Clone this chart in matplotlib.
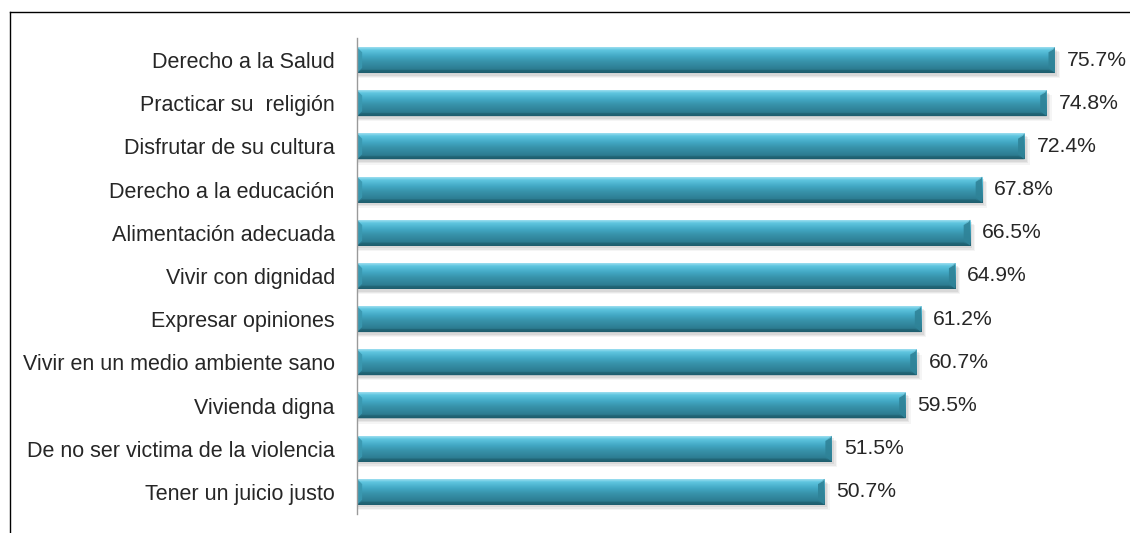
#!/usr/bin/env python3
"""
Horizontal bar chart: derechos (percent), beveled teal bars.
"""
import matplotlib
matplotlib.use("Agg")
import matplotlib.pyplot as plt
import numpy as np
from matplotlib.colors import LinearSegmentedColormap
from matplotlib.patches import Polygon, Rectangle
from matplotlib.lines import Line2D

plt.rcParams['font.family'] = ['Liberation Sans', 'DejaVu Sans']

categories = [
    "Derecho a la Salud",
    "Practicar su  religión",
    "Disfrutar de su cultura",
    "Derecho a la educación",
    "Alimentación adecuada",
    "Vivir con dignidad",
    "Expresar opiniones",
    "Vivir en un medio ambiente sano",
    "Vivienda digna",
    "De no ser victima de la violencia",
    "Tener un juicio justo",
]
values = [75.7, 74.8, 72.4, 67.8, 66.5, 64.9, 61.2, 60.7, 59.5, 51.5, 50.7]
value_labels = ["75.7%", "74.8%", "72.4%", "67.8%", "66.5%", "64.9%",
                "61.2%", "60.7%", "59.5%", "51.5%", "50.7%"]

W, H = 1130, 533
bar_h = 0.6
text_col = "#262626"

# vertical gradient of a bar, top -> bottom
bar_cmap = LinearSegmentedColormap.from_list("bar", [
    (0.00, "#9fdff0"),
    (0.10, "#5fc6e0"),
    (0.35, "#42a8c4"),
    (0.55, "#3893ab"),
    (0.85, "#2d7d92"),
    (1.00, "#1d5a6a"),
])
grad = np.linspace(0, 1, 64).reshape(-1, 1)


def draw_bar(ax, y, v):
    top = y - bar_h / 2
    bot = y + bar_h / 2
    # soft shadow below / right
    for k, a in enumerate([0.10, 0.08, 0.06]):
        dx = 0.25 + 0.15 * k
        dy = 0.06 + 0.03 * k
        ax.add_patch(Rectangle((0, top + dy), v + dx, bar_h, facecolor="#555555",
                               edgecolor="none", alpha=a, zorder=1))
    ax.imshow(grad, cmap=bar_cmap, extent=[0, v, bot, top], aspect="auto",
              interpolation="bicubic", zorder=2)
    b = 0.7   # bevel width (data units)
    d = 0.12  # bevel depth (y units)
    # right end facet
    ax.add_patch(Polygon([[v - b, top + d], [v, top], [v, bot], [v - b, bot - d]],
                         closed=True, facecolor="#2f8398", edgecolor="none",
                         alpha=0.9, zorder=3))
    ax.add_patch(Polygon([[v - b, top + d], [v, top], [v - b * 0.2, top + d * 0.4]],
                         closed=True, facecolor="#7fd4ea", edgecolor="none",
                         alpha=0.8, zorder=3))
    # left end facet
    ax.add_patch(Polygon([[0, top], [b * 0.8, top + d], [b * 0.8, bot - d], [0, bot]],
                         closed=True, facecolor="#3a98b0", edgecolor="none",
                         alpha=0.9, zorder=3))
    # bottom dark edge
    ax.add_patch(Polygon([[0, bot], [b * 0.8, bot - d * 0.6], [v - b, bot - d * 0.6], [v, bot]],
                         closed=True, facecolor="#1f6070", edgecolor="none",
                         alpha=0.6, zorder=3))


def main():
    fig = plt.figure(figsize=(W / 100, H / 100), dpi=100)
    left_px, right_px = 357, 1130
    top_px, bot_px = 38.5, 513.5
    ax = fig.add_axes([left_px / W, 1 - bot_px / H,
                       (right_px - left_px) / W, (bot_px - top_px) / H])

    ys = np.arange(len(categories))
    for y, v, lab in zip(ys, values, value_labels):
        draw_bar(ax, y, v)
        ax.text(v + 1.3, y, lab, ha="left", va="center", fontsize=15.2,
                color=text_col, zorder=4)

    ax.set_xlim(0, (right_px - left_px) / 9.22)
    ax.set_ylim(len(categories) - 0.5, -0.5)
    ax.set_yticks(ys)
    ax.set_yticklabels(categories, fontsize=15.5, color=text_col)
    ax.tick_params(axis="y", length=0, pad=16)
    ax.set_xticks([])
    for s in ["top", "right", "bottom"]:
        ax.spines[s].set_visible(False)
    ax.spines["left"].set_color("#9a9a9a")
    ax.spines["left"].set_linewidth(1.0)
    ax.spines["left"].set_zorder(5)

    # outer frame (top and left edges visible)
    fig.add_artist(Line2D([10 / W, 1.0], [1 - 12 / H, 1 - 12 / H],
                          transform=fig.transFigure, color="black", lw=1.0))
    fig.add_artist(Line2D([10 / W, 10 / W], [0.0, 1 - 12 / H],
                          transform=fig.transFigure, color="black", lw=1.0))

    fig.savefig("out.png", dpi=100)


if __name__ == '__main__':
    main()
